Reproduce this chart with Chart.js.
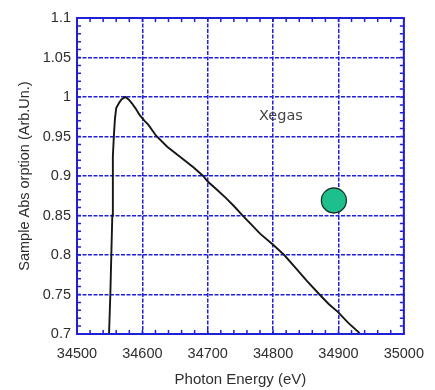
<!DOCTYPE html>
<html>
<head>
<meta charset="utf-8">
<script src="https://cdn.jsdelivr.net/npm/chart.js@4/dist/chart.umd.min.js"></script>
<style>
html,body{margin:0;padding:0;background:#fff;}
#c{display:block;}
</style>
</head>
<body>
<canvas id="c" width="435" height="390"></canvas>
<script>
// ---- data ----
const energy = [34548.5,34549,34551,34552.5,34554,34554.7,34555,34556.5,34558,34560,34564,34568,34574,34579,34584,34590,34596,34603,34609,34621,34638,34658,34678,34693,34700,34715,34728,34740,34752,34765,34780,34800,34817,34835,34852,34871,34885,34899,34915,34931,34936];
const absorption = [0.68,0.70,0.75,0.80,0.85,0.90,0.925,0.952,0.972,0.986,0.992,0.997,1.0,0.997,0.992,0.985,0.977,0.970,0.965,0.951,0.937,0.924,0.911,0.900,0.893,0.882,0.872,0.862,0.851,0.840,0.827,0.813,0.800,0.783,0.767,0.750,0.738,0.728,0.714,0.702,0.697];
const markerX = [34893];
const markerY = [0.869];
const labelText = "Xegas";
const labelPos = [34812, 0.977];
const xTicks = [34500,34600,34700,34800,34900,35000];
const xTickLabels = ["34500","34600","34700","34800","34900","35000"];
const yTicks = [0.7,0.75,0.8,0.85,0.9,0.95,1.0,1.05,1.1];
const yTickLabels = ["0.7","0.75","0.8","0.85","0.9","0.95","1","1.05","1.1"];
const xMinorStep = 20;
const yMinorStep = 0.01;

const BLUE = '#2020d8';
const TXT = '#2e2e2e';
const FONT = "'Liberation Sans', Arial, sans-serif";

const framePlugin = {
  id: 'frame',
  afterDraw(chart) {
    const {ctx, chartArea: a, scales: {x, y}} = chart;
    ctx.save();
    ctx.strokeStyle = BLUE;
    ctx.lineWidth = 1.5;
    ctx.beginPath();
    for (let v = x.min; v <= x.max + 1e-9; v += xMinorStep) {
      const px = x.getPixelForValue(v);
      ctx.moveTo(px, a.top); ctx.lineTo(px, a.top + 4);
      ctx.moveTo(px, a.bottom); ctx.lineTo(px, a.bottom - 4);
    }
    for (let k = 0; ; k++) {
      const v = y.min + k * yMinorStep;
      if (v > y.max + 1e-9) break;
      const py = y.getPixelForValue(v);
      ctx.moveTo(a.left, py); ctx.lineTo(a.left + 4, py);
      ctx.moveTo(a.right, py); ctx.lineTo(a.right - 4, py);
    }
    ctx.stroke();
    ctx.lineWidth = 2;
    ctx.strokeRect(a.left, a.top, a.right - a.left, a.bottom - a.top);
    ctx.fillStyle = '#444';
    ctx.font = "14.5px 'DejaVu Sans', sans-serif";
    ctx.textAlign = 'center';
    ctx.textBaseline = 'middle';
    ctx.fillText(labelText, x.getPixelForValue(labelPos[0]), y.getPixelForValue(labelPos[1]) + 1);
    ctx.restore();
  }
};

new Chart(document.getElementById('c'), {
  type: 'scatter',
  data: {
    datasets: [
      {
        data: energy.map((e, i) => ({x: e, y: absorption[i]})),
        showLine: true,
        borderColor: '#161616',
        borderWidth: 1.9,
        pointRadius: 0,
        tension: 0,
        order: 2
      },
      {
        data: markerX.map((e, i) => ({x: e, y: markerY[i]})),
        pointRadius: 12.5,
        pointBackgroundColor: '#1dbf8c',
        pointBorderColor: '#1b3328',
        pointBorderWidth: 1.3,
        order: 1
      }
    ]
  },
  options: {
    responsive: false,
    animation: false,
    events: [],
    layout: {padding: {left: 10, right: 22, top: 18, bottom: 0}},
    plugins: {legend: {display: false}, tooltip: {enabled: false}},
    scales: {
      x: {
        type: 'linear',
        min: 34500, max: 35000,
        afterBuildTicks: s => { s.ticks = xTicks.map(v => ({value: v})); },
        afterFit: s => { s.height = 56; },
        ticks: {
          callback: (v, i) => xTickLabels[i],
          color: TXT, padding: 11, maxRotation: 0, autoSkip: false,
          font: {family: FONT, size: 14.5}
        },
        grid: {color: BLUE, lineWidth: 1.5, drawTicks: false},
        border: {display: false, dash: [4, 1.5]},
        title: {
          display: true, text: 'Photon Energy (eV)', color: TXT,
          font: {family: FONT, size: 15}, padding: {top: 0, bottom: 1}
        }
      },
      y: {
        type: 'linear',
        min: 0.7, max: 1.1,
        afterBuildTicks: s => { s.ticks = yTicks.map(v => ({value: v})); },
        afterFit: s => { s.width = 67; },
        ticks: {
          callback: (v, i) => yTickLabels[i],
          color: TXT, padding: 6, autoSkip: false,
          font: {family: FONT, size: 14.5}
        },
        grid: {color: BLUE, lineWidth: 1.5, drawTicks: false},
        border: {display: false, dash: [4, 1.5]},
        title: {
          display: true, text: 'Sample Abs orption (Arb.Un.)', color: TXT,
          font: {family: FONT, size: 14.5}, padding: {top: 6, bottom: 0}
        }
      }
    }
  },
  plugins: [framePlugin]
});
</script>
</body>
</html>
